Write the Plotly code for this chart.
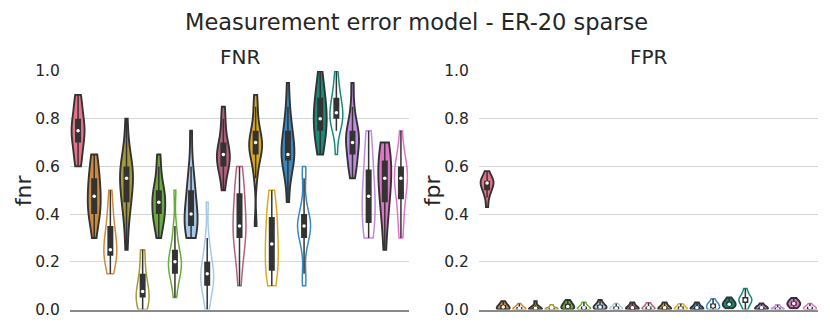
import numpy as np
import plotly.graph_objects as go

# base colours, one per method (first has only the filled variant)
colors = ['#e8718a', '#d08a3c', '#a59a35', '#6aaa3a', '#a7c8eb', '#b5607e',
          '#dcaa1c', '#3a88c0', '#178a78', '#c08be3', '#e074c8']

fnr_data = [
    [0.6, 0.6, 0.65, 0.65, 0.7, 0.7, 0.7, 0.75, 0.75, 0.75, 0.75, 0.8, 0.8, 0.8, 0.85, 0.85, 0.9, 0.9],
    [0.3, 0.35, 0.4, 0.4, 0.4, 0.45, 0.45, 0.45, 0.5, 0.5, 0.55, 0.55, 0.55, 0.6, 0.65, 0.65],
    [0.15, 0.2, 0.2, 0.2, 0.25, 0.25, 0.25, 0.25, 0.3, 0.3, 0.35, 0.35, 0.4, 0.45, 0.5],
    [0.25, 0.35, 0.4, 0.45, 0.45, 0.5, 0.5, 0.55, 0.55, 0.55, 0.6, 0.6, 0.6, 0.65, 0.7, 0.8],
    [0, 0, 0, 0.05, 0.05, 0.05, 0.05, 0.05, 0.1, 0.1, 0.1, 0.15, 0.15, 0.2, 0.25, 0.25],
    [0.3, 0.35, 0.35, 0.4, 0.4, 0.4, 0.45, 0.45, 0.45, 0.5, 0.5, 0.5, 0.55, 0.6, 0.65],
    [0.05, 0.1, 0.15, 0.15, 0.15, 0.2, 0.2, 0.2, 0.2, 0.25, 0.25, 0.3, 0.35, 0.5],
    [0.3, 0.3, 0.35, 0.35, 0.35, 0.4, 0.4, 0.4, 0.45, 0.5, 0.5, 0.55, 0.6, 0.75],
    [0, 0.05, 0.1, 0.1, 0.1, 0.15, 0.15, 0.15, 0.2, 0.2, 0.25, 0.3, 0.45],
    [0.5, 0.55, 0.6, 0.6, 0.6, 0.65, 0.65, 0.65, 0.65, 0.7, 0.7, 0.75, 0.8, 0.85],
    [0.1, 0.2, 0.25, 0.3, 0.3, 0.35, 0.35, 0.35, 0.4, 0.45, 0.5, 0.5, 0.55, 0.6],
    [0.35, 0.55, 0.6, 0.65, 0.65, 0.65, 0.7, 0.7, 0.7, 0.7, 0.75, 0.75, 0.8, 0.85, 0.9],
    [0.1, 0.15, 0.15, 0.15, 0.2, 0.25, 0.25, 0.3, 0.3, 0.35, 0.4, 0.4, 0.45, 0.5],
    [0.45, 0.55, 0.6, 0.6, 0.65, 0.65, 0.65, 0.65, 0.7, 0.7, 0.75, 0.75, 0.8, 0.85, 0.95],
    [0.1, 0.15, 0.25, 0.3, 0.3, 0.35, 0.35, 0.35, 0.35, 0.4, 0.4, 0.45, 0.55, 0.6],
    [0.65, 0.7, 0.7, 0.75, 0.75, 0.8, 0.8, 0.8, 0.85, 0.85, 0.9, 0.9, 0.95, 1.0],
    [0.65, 0.75, 0.75, 0.8, 0.8, 0.8, 0.8, 0.85, 0.85, 0.85, 0.9, 0.9, 0.95, 1.0],
    [0.55, 0.6, 0.6, 0.65, 0.65, 0.7, 0.7, 0.7, 0.75, 0.75, 0.75, 0.8, 0.85, 0.95],
    [0.3, 0.3, 0.35, 0.35, 0.4, 0.45, 0.45, 0.5, 0.5, 0.55, 0.6, 0.65, 0.7, 0.75],
    [0.25, 0.35, 0.4, 0.45, 0.45, 0.5, 0.55, 0.55, 0.55, 0.6, 0.6, 0.65, 0.65, 0.7, 0.7],
    [0.3, 0.35, 0.4, 0.45, 0.5, 0.5, 0.55, 0.55, 0.55, 0.6, 0.6, 0.6, 0.65, 0.75],
]

fpr_data = [
    [0.43, 0.47, 0.49, 0.5, 0.51, 0.52, 0.53, 0.53, 0.54, 0.54, 0.55, 0.56, 0.58],
    [0, 0, 0, 0.005, 0.01, 0.01, 0.015, 0.02, 0.025, 0.035],
    [0, 0, 0, 0, 0.005, 0.01, 0.01, 0.015, 0.025],
    [0, 0, 0, 0, 0.005, 0.01, 0.01, 0.02, 0.035],
    [0, 0, 0, 0.005, 0.005, 0.01, 0.02],
    [0, 0, 0.005, 0.01, 0.01, 0.015, 0.02, 0.025, 0.03, 0.04],
    [0, 0, 0, 0.005, 0.01, 0.01, 0.02, 0.03],
    [0, 0, 0.005, 0.01, 0.01, 0.015, 0.02, 0.025, 0.04],
    [0, 0, 0, 0.005, 0.01, 0.015, 0.025],
    [0, 0, 0, 0.005, 0.01, 0.01, 0.02, 0.03],
    [0, 0, 0, 0.005, 0.01, 0.01, 0.02, 0.028],
    [0, 0, 0, 0.005, 0.01, 0.01, 0.02, 0.03],
    [0, 0, 0, 0.005, 0.01, 0.015, 0.024],
    [0, 0, 0, 0.005, 0.01, 0.01, 0.02, 0.03],
    [0, 0, 0.005, 0.01, 0.015, 0.02, 0.025, 0.03, 0.045],
    [0.005, 0.01, 0.015, 0.02, 0.02, 0.025, 0.03, 0.035, 0.04, 0.05],
    [0, 0.01, 0.02, 0.03, 0.035, 0.04, 0.04, 0.045, 0.05, 0.06, 0.07, 0.088],
    [0, 0, 0, 0.005, 0.01, 0.01, 0.015, 0.025],
    [0, 0, 0, 0.005, 0.01, 0.02],
    [0.005, 0.01, 0.015, 0.02, 0.025, 0.025, 0.03, 0.035, 0.04, 0.048],
    [0, 0, 0, 0.005, 0.01, 0.01, 0.015, 0.025],
]

title = 'Measurement error model - ER-20 sparse'
panels = [('FNR', 'fnr', fnr_data), ('FPR', 'fpr', fpr_data)]

DARK = '#333333'
FONT = 'DejaVu Sans'
W, H = 830, 332
OFF = 8  # page body margin shifts the figure by this many px
fig = go.Figure()

for p, (ptitle, ylab, data) in enumerate(panels):
    xa = 'x' if p == 0 else 'x2'
    ya = 'y' if p == 0 else 'y2'
    thick_x, thick_y, thin_x, thin_y, med_x, med_y = [], [], [], [], [], []
    for k, vals in enumerate(data):
        c = colors[(k + 1) // 2]
        filled = (k == 0) or (k % 2 == 1)
        fig.add_trace(go.Violin(
            x0=k, y=vals, xaxis=xa, yaxis=ya,
            width=0.8, scalemode='width', spanmode='hard', points=False,
            fillcolor=c if filled else 'rgba(0,0,0,0)',
            line=dict(color=DARK if filled else c, width=1.9 if filled else 1.5),
            box_visible=False, meanline_visible=False,
            showlegend=False, hoverinfo='skip', opacity=1,
        ))
        a = np.asarray(vals, dtype=float)
        q1, q2, q3 = np.percentile(a, [25, 50, 75])
        w = 1.5 * (q3 - q1)
        lo = a[a >= q1 - w].min()
        hi = a[a <= q3 + w].max()
        thin_x += [k, k, None]
        thin_y += [lo, hi, None]
        thick_x += [k, k, None]
        thick_y += [q1, q3, None]
        med_x.append(k)
        med_y.append(q2)
    fig.add_trace(go.Scatter(x=thin_x, y=thin_y, mode='lines', xaxis=xa, yaxis=ya,
                             line=dict(color=DARK, width=1.5), showlegend=False, hoverinfo='skip'))
    fig.add_trace(go.Scatter(x=thick_x, y=thick_y, mode='lines', xaxis=xa, yaxis=ya,
                             line=dict(color=DARK, width=6), showlegend=False, hoverinfo='skip'))
    fig.add_trace(go.Scatter(x=med_x, y=med_y, mode='markers', xaxis=xa, yaxis=ya,
                             marker=dict(color='white', size=3.5, line_width=0),
                             showlegend=False, hoverinfo='skip'))


def px_x(x):
    return (x - OFF) / W


def px_y(y):
    return 1 - (y - OFF) / H


x_domains = [[px_x(70), px_x(409)], [px_x(479), px_x(818)]]
y_domain = [px_y(309.5), px_y(71)]

axis_x = dict(range=[-0.5, 20.5], showticklabels=False, ticks='', showgrid=False,
              zeroline=False, showline=True, linecolor='#8a8a8a', linewidth=2)
axis_y = dict(range=[0, 1.0], tickvals=[0, 0.2, 0.4, 0.6, 0.8, 1.0], tickformat='.1f',
              showgrid=True, gridcolor='#d6d6d6', gridwidth=1, zeroline=False,
              showline=False, ticks='outside', ticklen=6, tickcolor='rgba(0,0,0,0)',
              tickfont=dict(family=FONT, size=15.5, color='#262626'), domain=y_domain,
              automargin=False)

fig.update_layout(
    width=W, height=H,
    margin=dict(l=0, r=0, t=0, b=0, pad=0, autoexpand=False),
    plot_bgcolor='white', paper_bgcolor='white',
    xaxis=dict(axis_x, domain=x_domains[0], anchor='y', automargin=False),
    xaxis2=dict(axis_x, domain=x_domains[1], anchor='y2', automargin=False),
    yaxis=dict(axis_y, anchor='x'),
    yaxis2=dict(axis_y, anchor='x2'),
    showlegend=False,
)

# title box kept inside the figure top edge
fig.add_annotation(text=title, x=px_x(416), y=1, xref='paper', yref='paper',
                   xanchor='center', yanchor='top', showarrow=False, borderpad=0,
                   font=dict(family=FONT, size=22.5, color='#262626'))
for p, (ptitle, ylab, data) in enumerate(panels):
    xc = sum(x_domains[p]) / 2
    fig.add_annotation(text=ptitle, x=xc, y=px_y(57), xref='paper', yref='paper',
                       xanchor='center', yanchor='middle', showarrow=False,
                       font=dict(family=FONT, size=20, color='#262626'))
    fig.add_annotation(text=ylab, x=px_x(23 if p == 0 else 432), y=sum(y_domain) / 2,
                       xref='paper', yref='paper', xanchor='center', yanchor='middle',
                       showarrow=False, textangle=-90,
                       font=dict(family=FONT, size=22, color='#262626'))

fig.write_html("out.html")
